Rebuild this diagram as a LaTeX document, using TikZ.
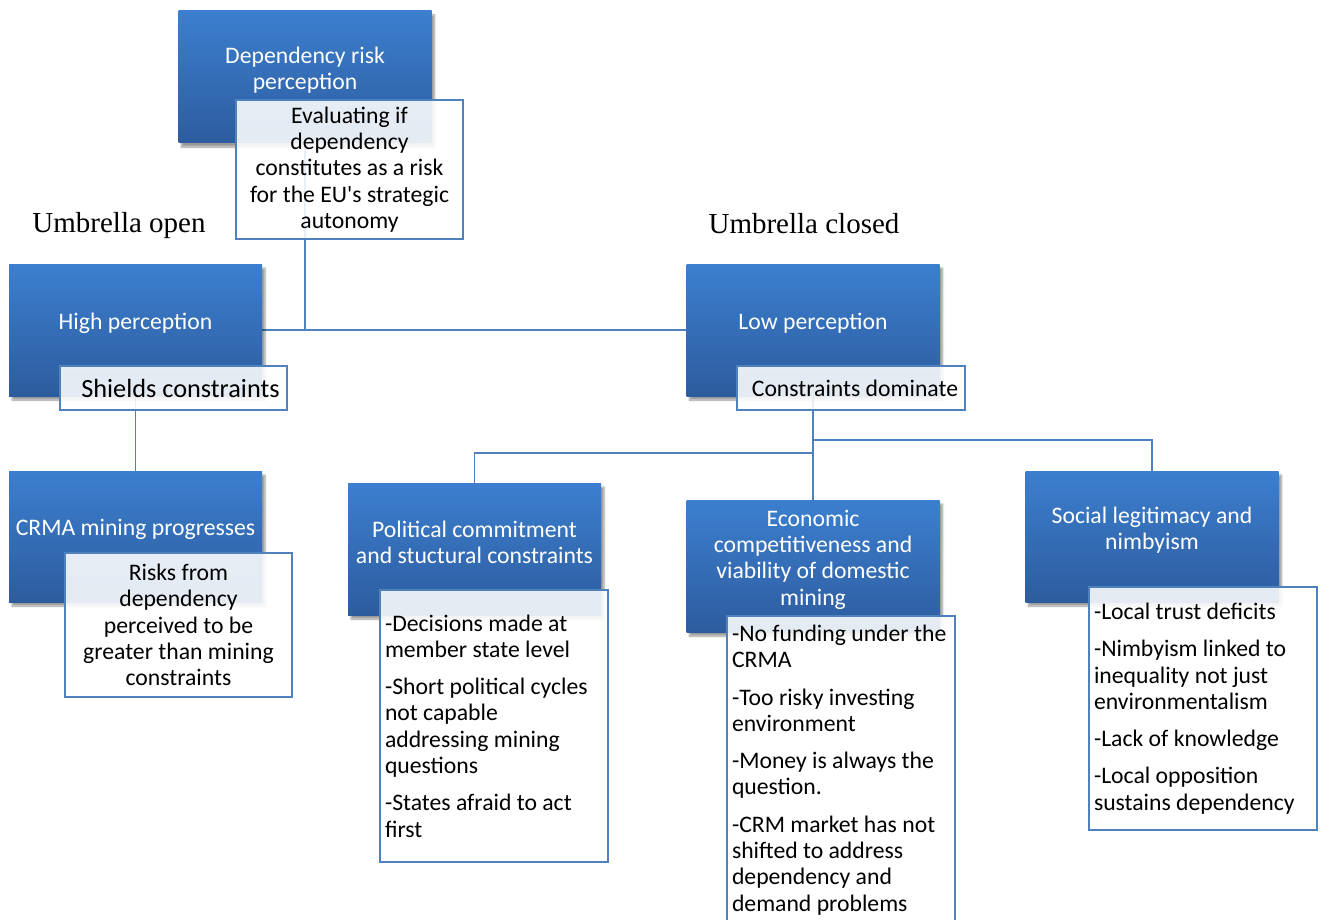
\documentclass[tikz,border=0pt]{standalone}
\usepackage{fontspec}
\setmainfont{Carlito}
\newfontfamily\serifhead{Liberation Serif}
\usetikzlibrary{shadows.blur}
\pgfdeclarelayer{links}
\pgfsetlayers{links,main}
\definecolor{boxtop}{RGB}{60,127,207}
\definecolor{boxmid}{RGB}{55,115,192}
\definecolor{boxbot}{RGB}{45,92,158}
\definecolor{edge}{RGB}{79,129,189}

\begin{document}
\begin{tikzpicture}[x=1pt,y=-1pt,
  topic/.style={rectangle, minimum width=253pt, minimum height=132pt, inner sep=0pt,
    top color=boxtop, middle color=boxmid, bottom color=boxbot,
    blur shadow={shadow xshift=3pt, shadow yshift=-4pt, shadow opacity=40, shadow blur steps=6}},
  topictext/.style={text=white, align=flush center, font=\fontsize{23.7}{26.3}\selectfont, inner sep=0pt},
  note/.style={rectangle, draw=edge, line width=1.6pt, fill=white, fill opacity=0.88, text opacity=1,
    inner xsep=5pt, inner ysep=0pt, font=\fontsize{23.7}{26.3}\selectfont},
  link/.style={draw=edge, line width=1.8pt},
  heading/.style={font=\serifhead\fontsize{29}{34}\selectfont, inner sep=0pt}]

\useasboundingbox (0,0) rectangle (1320,920);
\clip (0,0) rectangle (1320,920);

% blue topic boxes
\node[topic, label={[name=dep-t, topictext, yshift=6.5pt]center:{Dependency risk\\perception}}] (dep) at (305,77) {};
\node[topic, label={[name=hp-t, topictext, yshift=6.5pt]center:{High perception}}] (hp) at (135.5,330) {};
\node[topic, label={[name=lp-t, topictext, yshift=6.5pt]center:{Low perception}}] (lp) at (813,330) {};
\node[topic, minimum height=131pt, label={[name=crma-t, topictext, yshift=7pt]center:{CRMA mining progresses}}] (crma) at (135.5,536.5) {};
\node[topic, label={[name=pol-t, topictext, yshift=6.5pt]center:{Political commitment\\and stuctural constraints}}] (pol) at (474.5,549) {};
\node[topic, label={[name=econ-t, topictext, yshift=6.5pt]center:{Economic\\competitiveness and\\viability of domestic\\mining}}] (econ) at (813,566) {};
\node[topic, minimum height=131pt, label={[name=soc-t, topictext, yshift=6.5pt]center:{Social legitimacy and\\nimbyism}}] (soc) at (1152,536.5) {};

% headings
\node[heading] (open) at (119,226) {Umbrella open};
\node[heading] (closed) at (804,224) {Umbrella closed};

% connectors
\begin{pgfonlayer}{links}
  \draw[link] (dep.south) -- (dep.south |- hp.east);
  \draw[link] (hp.east) -- (lp.west);
  \draw[link] (hp.south) -- (crma.north);
  \draw[link] (lp.south) -- (econ.north);
  \coordinate (fork-r) at (813,440);
  \coordinate (fork-l) at (813,453);
  \draw[link] (fork-r) -| (soc.north);
  \draw[link] (fork-l) -| (pol.north);
\end{pgfonlayer}

% white notes
\node[note, minimum width=227pt, minimum height=139pt, text width=217pt, align=flush center] (ev) at (349.5,169.5)
  {Evaluating if\\dependency\\constitutes as a risk\\for the EU\textquotesingle s strategic\\autonomy};
\node[note, minimum width=227pt, minimum height=44pt, font=\fontsize{26.3}{29}\selectfont] (sh) at (173.5,388)
  {\hspace*{14pt}Shields constraints};
\node[note, minimum width=228pt, minimum height=44pt] (cd) at (851,388)
  {\hspace*{8pt}Constraints dominate};
\node[note, minimum width=227pt, minimum height=144pt, text width=217pt, align=flush center] (rk) at (178.5,625)
  {Risks from\\dependency\\perceived to be\\greater than mining\\constraints};
\node[note, minimum width=228pt, minimum height=272pt, text width=218pt, align=flush left] (pl) at (494,726)
  {-Decisions made at\\member state level\\[11pt]-Short political cycles\\not capable\\addressing mining\\questions\\[11pt]-States afraid to act\\first};
\node[note, minimum width=228pt, minimum height=308pt, text width=218pt, align=flush left] (el) at (841,770)
  {-No funding under the\\CRMA\\[11pt]-Too risky investing\\environment\\[11pt]-Money is always the\\question.\\[11pt]-CRM market has not\\shifted to address\\dependency and\\demand problems};
\node[note, minimum width=228pt, minimum height=243pt, text width=218pt, align=flush left] (sl) at (1203,708.5)
  {-Local trust deficits\\[11pt]-Nimbyism linked to\\inequality not just\\environmentalism\\[11pt]-Lack of knowledge\\[11pt]-Local opposition\\sustains dependency};

\end{tikzpicture}
\end{document}
